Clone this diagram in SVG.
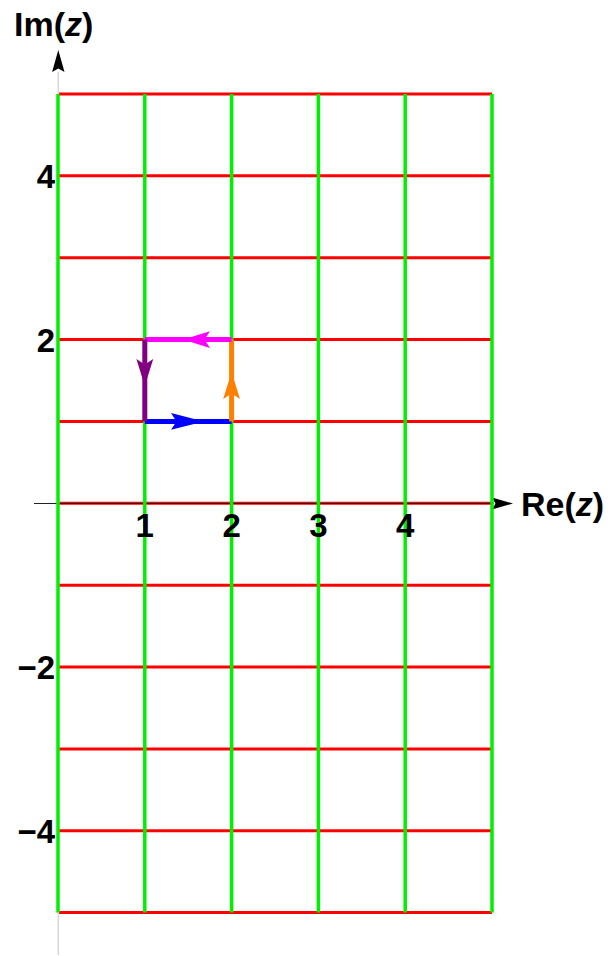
<svg xmlns="http://www.w3.org/2000/svg" width="615" height="956" viewBox="0 0 615 956">
<style>
.red{stroke:#ff0000;stroke-width:3;fill:none}
.grn{stroke:#00f000;stroke-width:3.5;fill:none}
.lbl{font-family:"Liberation Sans",Arial,sans-serif;font-weight:bold;font-size:34px;fill:#000}
.tick{font-family:"Liberation Sans",Arial,sans-serif;font-weight:bold;font-size:33px;fill:#000}
</style>
<rect width="615" height="956" fill="#fff"/>
<g id="grid-h">
<line class="red" x1="58" y1="94" x2="492" y2="94"/>
<line class="red" x1="58" y1="175.8" x2="492" y2="175.8"/>
<line class="red" x1="58" y1="257.7" x2="492" y2="257.7"/>
<line class="red" x1="58" y1="339.6" x2="492" y2="339.6"/>
<line class="red" x1="58" y1="421.4" x2="492" y2="421.4"/>
<line class="red" x1="58" y1="503.3" x2="492" y2="503.3"/>
<line class="red" x1="58" y1="585.2" x2="492" y2="585.2"/>
<line class="red" x1="58" y1="667" x2="492" y2="667"/>
<line class="red" x1="58" y1="748.9" x2="492" y2="748.9"/>
<line class="red" x1="58" y1="830.8" x2="492" y2="830.8"/>
<line class="red" x1="58" y1="912.6" x2="492" y2="912.6"/>
</g>
<g id="axes">
<line x1="58.3" y1="72" x2="58.3" y2="955" stroke="#d8d8d8" stroke-width="1.5"/>
<line x1="34" y1="503.5" x2="494" y2="503.5" stroke="#222" stroke-width="1.2"/>
<path d="M58.3,50 L64.5,72 L58.3,68.5 L52.1,72 Z" fill="#000"/>
<path d="M513,503.5 L492,497.5 L495.5,503.5 L492,509.5 Z" fill="#000"/>
</g>
<g id="grid-v">
<line class="grn" x1="58" y1="94" x2="58" y2="912.6"/>
<line class="grn" x1="144.8" y1="94" x2="144.8" y2="912.6"/>
<line class="grn" x1="231.6" y1="94" x2="231.6" y2="912.6"/>
<line class="grn" x1="318.4" y1="94" x2="318.4" y2="912.6"/>
<line class="grn" x1="405.2" y1="94" x2="405.2" y2="912.6"/>
<line class="grn" x1="492" y1="94" x2="492" y2="912.6"/>
</g>
<g id="contour">
<g id="seg-blue">
<line x1="144.8" y1="421.4" x2="231.6" y2="421.4" stroke="#0000ff" stroke-width="5"/>
<path d="M204,421.4 L171,413 L176.5,421.4 L171,429.8 Z" fill="#0000ff"/>
</g>
<g id="seg-orange">
<line x1="231.6" y1="421.4" x2="231.6" y2="339.6" stroke="#ff8000" stroke-width="5"/>
<path d="M231.6,372 L223.2,399 L231.6,393.5 L240,399 Z" fill="#ff8000"/>
</g>
<g id="seg-magenta">
<line x1="231.6" y1="339.6" x2="144.8" y2="339.6" stroke="#ff00ff" stroke-width="5"/>
<path d="M183,339.6 L210,331.2 L204.5,339.6 L210,348 Z" fill="#ff00ff"/>
</g>
<g id="seg-purple">
<line x1="144.8" y1="339.6" x2="144.8" y2="421.4" stroke="#800080" stroke-width="5"/>
<path d="M144.8,386 L136.4,359 L144.8,364.5 L153.2,359 Z" fill="#800080"/>
</g>
</g>
<g id="labels">
<text class="lbl" x="14" y="36">Im(<tspan font-style="italic">z</tspan>)</text>
<text class="lbl" x="521" y="516">Re(<tspan font-style="italic">z</tspan>)</text>
<text class="tick" x="144.8" y="537" text-anchor="middle">1</text>
<text class="tick" x="231.6" y="537" text-anchor="middle">2</text>
<text class="tick" x="318.4" y="537" text-anchor="middle">3</text>
<text class="tick" x="405.2" y="537" text-anchor="middle">4</text>
<text class="tick" x="55" y="187.5" text-anchor="end">4</text>
<text class="tick" x="55" y="351.5" text-anchor="end">2</text>
<text class="tick" x="55" y="678.5" text-anchor="end">−2</text>
<text class="tick" x="55" y="842.5" text-anchor="end">−4</text>
</g>
</svg>
